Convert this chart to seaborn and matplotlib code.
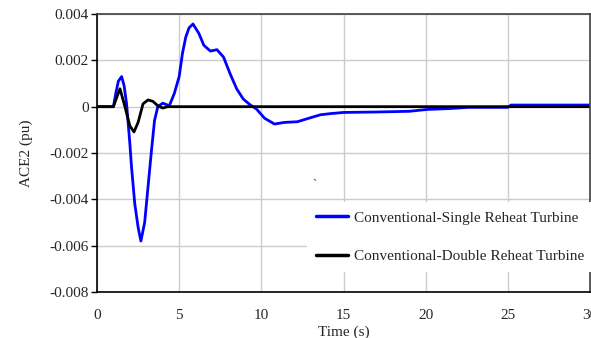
import matplotlib
matplotlib.use("Agg")
import matplotlib.pyplot as plt
import seaborn as sns
import pandas as pd

# Single reheat turbine (blue)
t_single = [0, 1.0, 1.15, 1.3, 1.5, 1.65, 1.8, 2.0, 2.1, 2.3, 2.5, 2.67, 2.9, 3.1, 3.3, 3.5,
            3.7, 4.0, 4.4, 4.7, 5.0, 5.2, 5.4, 5.6, 5.84, 6.2, 6.5, 6.9, 7.3, 7.7, 8.1,
            8.5, 8.9, 9.3, 9.7, 10.2, 10.8, 11.4, 12.2, 12.7, 13.6, 14.2, 15.0, 17.0,
            19.0, 20.1, 21.5, 22.6, 25.0, 25.2, 30.0]
v_single = [0, 0, 0.0006, 0.0011, 0.0013, 0.0009, 0.00012, -0.0016, -0.0026, -0.0042,
            -0.0052, -0.0058, -0.0050, -0.0035, -0.0020, -0.0006,
            0.0, 0.00015, 0.00004, 0.00056, 0.0013, 0.0023, 0.0030, 0.0034, 0.00357, 0.00316,
            0.00265, 0.0024, 0.00246, 0.00214, 0.00142, 0.00077, 0.00033, 0.00009, -0.0001,
            -0.0005, -0.00075, -0.00068, -0.00065, -0.00054, -0.00035, -0.0003, -0.00025,
            -0.00023, -0.0002, -0.00012, -0.00008, -0.00003, -0.00003, 0.00007, 0.00007]

# Double reheat turbine (black)
t_double = [0, 1.0, 1.2, 1.4, 1.7, 2.0, 2.25, 2.5, 2.8, 3.1, 3.4, 3.7, 4.0, 4.3, 30.0]
v_double = [0, 0, 0.0004, 0.00077, 0.0, -0.00083, -0.00109, -0.00068, 0.00012, 0.00029,
            0.00023, 0.00004, -0.00006, 0.0, 0.0]

label_single = "Conventional-Single Reheat Turbine"
label_double = "Conventional-Double Reheat Turbine"

x_ticks = [0, 5, 10, 15, 20, 25, 30]
y_ticks = [-0.008, -0.006, -0.004, -0.002, 0, 0.002, 0.004]
y_tick_labels = ["-0.008", "-0.006", "-0.004", "-0.002", "0", "0.002", "0.004"]

df = pd.concat([
    pd.DataFrame({"t": t_single, "v": v_single, "series": label_single}),
    pd.DataFrame({"t": t_double, "v": v_double, "series": label_double}),
])

sns.set_style("white")
plt.rcParams["font.family"] = ["Liberation Serif", "DejaVu Serif"]

fig = plt.figure(figsize=(5.91, 3.38), dpi=100)
ax = fig.add_axes([97 / 591, 46 / 338, 493 / 591, 278 / 338])

sns.lineplot(data=df, x="t", y="v", hue="series", palette=["#0000ff", "#000000"],
             linewidth=2.0, ax=ax, sort=False, estimator=None, legend=True)

ax.set_xlim(0, 30)
ax.set_ylim(-0.008, 0.004)
ax.set_xticks(x_ticks)
ax.set_yticks(y_ticks)
ax.set_yticklabels(y_tick_labels)
ax.grid(True, color="#cccccc", linewidth=1.0)
ax.set_axisbelow(True)

for side in ["left", "bottom"]:
    ax.spines[side].set_color("black")
    ax.spines[side].set_linewidth(1.2)
for side in ["top", "right"]:
    ax.spines[side].set_color("#404040")
    ax.spines[side].set_linewidth(1.2)

ax.tick_params(axis="y", direction="out", length=4, width=1, color="black",
               labelsize=11, pad=2, left=True)
ax.tick_params(axis="x", length=0, labelsize=11, pad=12)

ax.set_xlabel("Time (s)", fontsize=11, labelpad=3)
ax.set_ylabel("ACE2 (pu)", fontsize=11, labelpad=12)

leg = ax.legend(loc="upper left", bbox_to_anchor=(0.426, 0.324), frameon=True,
                fancybox=False, edgecolor="none", facecolor="white", framealpha=1,
                fontsize=11, handlelength=2.1, handletextpad=0.35, labelspacing=1.6,
                borderpad=0.6, borderaxespad=0)
for line in leg.get_lines():
    line.set_linewidth(2.5)

ax.text(13.1, -0.0035, "`", fontsize=9, color="#333333")

fig.savefig("out.png", dpi=100)
